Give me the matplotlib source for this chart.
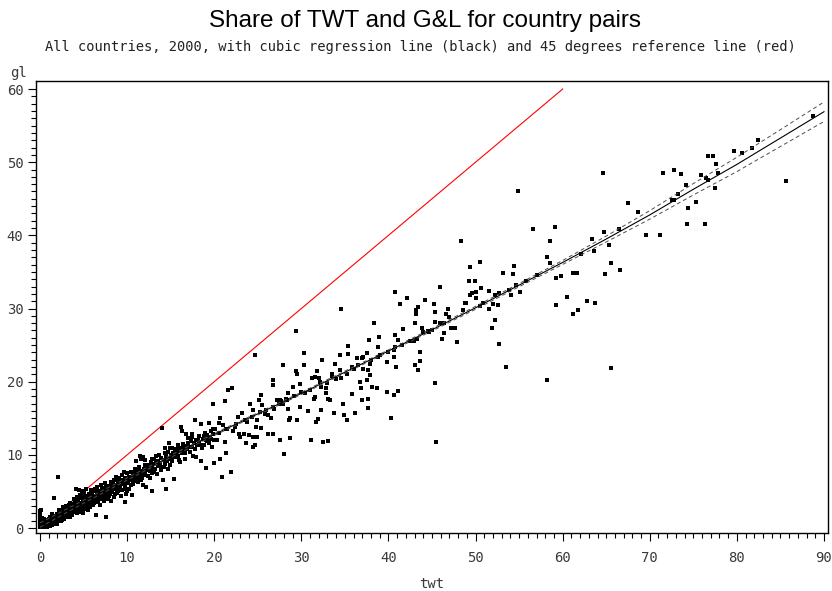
import numpy as np
import matplotlib
matplotlib.use("Agg")
from matplotlib import pyplot as plt

# (twt, gl) pairs, grouped by twt range
pts_origin = [
    (0.0, 0.2), (0.0, 0.5), (0.0, 0.8), (0.0, 1.1), (0.0, 1.4), (0.0, 1.7), (0.0, 2.0),
    (0.0, 2.3), (0.1, 2.5), (0.1, 0.1), (0.1, 0.4), (0.1, 1.0), (0.2, 0.2), (0.2, 0.6),
    (0.3, 0.1), (0.3, 0.4), (0.3, 0.9), (0.4, 0.2), (0.4, 0.6), (0.5, 0.3), (0.5, 0.8),
    (0.5, 1.2), (0.6, 0.2), (0.7, 0.5), (0.7, 0.9), (0.8, 0.3), (0.9, 0.6), (0.9, 1.1),
    (1.0, 0.4), (1.0, 0.8), (1.1, 0.5), (1.1, 1.3), (1.2, 0.7), (1.3, 0.4), (1.3, 1.0),
    (1.4, 0.8), (1.5, 0.6), (1.5, 1.2), (1.6, 0.9), (1.6, 1.5), (1.7, 0.7), (1.8, 1.1),
    (1.8, 1.6), (1.9, 0.9), (2.0, 1.3), (2.0, 1.9), (2.1, 1.0), (2.1, 7.0), (2.2, 1.5),
    (2.3, 1.2), (2.3, 2.0), (2.4, 1.6), (2.5, 1.1), (2.5, 2.3), (2.6, 1.8), (2.7, 1.4),
    (2.8, 2.0), (2.8, 2.6), (2.9, 1.7), (3.0, 2.2), (3.0, 1.5), (1.6, 4.1),
    (0.2, 1.4), (0.4, 1.0), (0.6, 0.7), (0.8, 0.1), (0.8, 1.0), (1.0, 1.2), (1.2, 0.3),
    (1.2, 1.5), (1.4, 0.4), (1.4, 1.9), (1.7, 1.2), (1.9, 1.4), (2.0, 0.6), (2.2, 2.4),
    (2.4, 0.9), (2.6, 1.4), (2.6, 2.9), (2.8, 1.2), (2.9, 2.3), (3.0, 3.0),
]
pts_low = [
    (3.1, 2.8), (3.2, 1.9), (3.2, 2.4), (3.3, 3.1), (3.4, 2.1), (3.4, 2.7), (3.5, 3.4),
    (3.6, 2.3), (3.6, 2.9), (3.7, 1.8), (3.8, 2.6), (3.8, 3.3), (3.9, 4.0), (4.0, 2.4),
    (4.0, 3.0), (4.1, 3.6), (4.1, 5.4), (4.2, 2.8), (4.2, 4.3), (4.3, 3.2), (4.4, 2.5),
    (4.4, 3.8), (4.5, 3.0), (4.5, 5.2), (4.5, 2.2), (4.6, 3.4), (4.7, 2.7), (4.7, 4.1),
    (4.8, 3.1), (4.8, 5.0), (4.9, 3.7), (4.9, 2.0), (5.0, 2.9), (5.0, 3.4), (5.0, 4.4),
    (5.1, 3.9), (5.2, 3.2), (5.3, 5.4), (5.3, 3.6), (5.4, 4.2), (5.4, 2.8), (5.5, 3.9),
    (5.6, 3.3), (5.6, 4.7), (5.7, 4.0), (5.8, 3.5), (5.8, 5.2), (5.9, 4.3), (6.0, 3.7),
    (6.0, 4.8), (6.1, 4.1), (6.2, 3.4), (6.2, 5.0), (6.3, 4.4), (6.4, 1.8), (6.4, 3.9),
    (6.5, 4.7), (6.6, 4.2), (6.6, 5.6), (6.7, 3.6), (6.8, 4.5), (6.8, 5.1), (6.9, 4.0),
    (7.0, 4.8), (7.0, 5.9), (7.1, 4.3), (7.2, 5.2), (7.3, 3.7), (7.3, 4.7), (7.4, 5.5),
    (7.5, 4.4), (7.5, 6.2), (7.6, 1.5), (7.6, 5.0), (7.7, 4.6), (7.8, 5.4), (7.8, 3.9),
    (7.9, 5.8), (8.0, 5.1), (8.0, 4.6), (8.1, 6.3), (8.2, 5.4), (8.3, 4.9), (8.3, 6.0),
    (8.4, 5.6), (8.5, 6.6), (8.5, 4.2), (8.6, 5.3), (8.7, 7.0), (8.7, 5.9), (8.8, 5.5),
    (8.9, 6.4), (9.0, 5.1), (9.0, 6.0), (9.1, 6.8), (9.2, 5.7), (9.3, 6.3), (9.3, 4.4),
    (9.4, 7.2), (9.5, 6.0), (9.6, 6.6), (9.7, 3.6), (9.7, 5.4), (9.8, 6.9), (9.9, 6.2),
    (10.0, 6.6), (10.0, 5.0), (10.0, 7.5), (3.5, 1.5), (5.5, 2.5), (6.9, 3.2), (8.8, 4.8),
    (3.1, 2.1), (3.3, 2.5), (3.5, 2.0), (3.7, 3.0), (3.9, 2.2), (4.0, 3.6), (4.2, 2.0),
    (4.3, 3.9), (4.5, 2.6), (4.6, 4.5), (4.8, 2.4), (4.9, 3.3), (5.1, 2.6), (5.1, 4.8),
    (5.3, 3.0), (5.5, 4.4), (5.7, 2.9), (5.7, 3.6), (5.9, 3.1), (6.0, 4.2), (6.1, 3.2),
    (6.3, 5.4), (6.5, 3.9), (6.7, 4.9), (6.9, 4.6), (7.1, 5.5), (7.2, 3.9), (7.4, 4.1),
    (7.6, 5.7), (7.9, 4.4), (8.1, 5.0), (8.2, 3.7), (8.4, 6.3), (8.6, 4.7), (8.9, 5.2),
    (9.1, 5.6), (9.2, 6.5), (9.4, 5.2), (9.6, 7.6), (9.8, 5.8), (9.9, 4.6),
]
pts_mid = [
    (10.1, 6.1), (10.2, 7.0), (10.3, 6.5), (10.4, 7.6), (10.5, 5.9), (10.6, 4.5), (10.6, 6.9),
    (10.7, 7.3), (10.8, 6.4), (10.9, 8.0), (11.0, 7.0), (11.0, 9.1), (11.1, 6.6), (11.2, 7.5),
    (11.3, 7.1), (11.4, 8.3), (11.5, 7.4), (11.5, 9.8), (11.6, 9.4), (11.7, 6.9), (11.7, 7.8),
    (11.8, 9.7), (11.8, 5.9), (11.9, 8.1), (12.0, 7.5), (12.1, 8.6), (12.2, 5.6), (12.2, 7.9),
    (12.3, 8.2), (12.4, 7.1), (12.5, 8.5), (12.6, 7.8), (12.7, 9.0), (12.8, 8.2), (12.9, 5.0),
    (12.9, 7.5), (13.0, 8.7), (13.1, 9.4), (13.2, 8.1), (13.3, 8.9), (13.4, 7.4), (13.5, 9.2),
    (13.6, 8.5), (13.7, 10.0), (13.8, 8.9), (13.9, 9.6), (14.0, 13.7), (14.0, 8.3), (14.1, 6.6),
    (14.2, 9.3), (14.3, 10.9), (14.4, 8.8), (14.5, 5.4), (14.5, 9.8), (14.6, 9.1), (14.7, 10.4),
    (14.8, 11.6), (14.8, 9.5), (14.9, 8.6), (15.0, 10.0), (15.1, 9.2), (15.2, 10.9), (15.3, 10.3),
    (15.4, 6.7), (15.5, 9.7), (15.6, 10.8), (15.7, 10.1), (15.8, 11.4), (15.9, 9.3), (16.0, 10.5),
    (16.1, 11.0), (16.2, 13.8), (16.3, 13.3), (16.3, 10.2), (16.4, 11.5), (16.5, 10.7), (16.6, 9.5),
    (16.7, 11.2), (16.8, 12.9), (16.9, 10.8), (17.0, 12.3), (17.0, 11.6), (17.2, 10.4), (17.3, 11.9),
    (17.4, 11.1), (17.5, 12.4), (17.6, 9.9), (17.7, 11.6), (17.8, 14.8), (17.9, 9.7), (17.9, 12.0),
    (18.0, 11.3), (18.2, 12.6), (18.3, 11.8), (18.5, 14.2), (18.5, 9.1), (18.6, 10.9), (18.7, 12.2),
    (18.8, 11.3), (18.9, 13.0), (19.1, 8.2), (19.1, 12.0), (19.2, 12.7), (19.4, 14.4), (19.4, 11.6),
    (19.5, 12.5), (19.6, 13.3), (19.8, 11.1), (19.9, 16.9), (19.9, 12.9), (20.0, 12.0), (20.0, 8.9),
    (10.2, 5.4), (10.4, 6.8), (10.7, 6.0), (10.9, 7.6), (11.2, 6.3), (11.4, 7.9), (11.6, 6.5),
    (11.9, 7.3), (12.1, 9.3), (12.4, 8.6), (12.6, 6.8), (12.9, 9.5), (13.1, 7.6), (13.3, 9.9),
    (13.6, 9.0), (13.9, 7.9), (14.2, 8.4), (14.4, 10.2), (14.7, 8.1), (14.9, 10.9), (15.2, 9.6),
    (15.5, 10.4), (15.8, 9.9), (16.1, 9.0), (16.4, 10.9), (16.7, 10.2), (17.1, 11.1), (17.4, 12.8),
    (17.8, 10.8), (18.1, 12.0), (18.4, 11.4), (18.8, 12.6), (19.2, 11.9), (19.6, 12.2), (19.9, 13.5),
    (20.1, 13.6), (20.3, 12.0), (20.5, 14.3), (20.5, 13.0), (20.7, 15.0), (20.7, 9.4), (20.9, 7.0),
    (21.0, 14.1), (21.2, 11.7), (21.2, 17.3), (21.4, 13.6), (21.4, 10.2), (21.5, 13.5), (21.6, 18.9),
    (21.9, 7.6), (22.0, 19.1), (22.2, 13.2), (22.4, 13.8), (22.5, 14.2), (22.7, 15.2), (22.8, 12.9),
    (23.0, 12.5), (23.2, 15.7), (23.4, 12.9), (23.5, 14.7), (23.7, 11.6), (23.8, 14.5), (24.0, 12.7),
    (24.1, 16.9), (24.3, 15.2), (24.4, 16.1), (24.5, 12.5), (24.5, 11.1), (24.7, 11.3), (24.7, 23.7),
    (24.8, 13.8), (24.9, 14.8), (24.9, 12.5), (25.1, 17.5), (25.2, 15.8), (25.4, 18.2), (25.4, 13.7),
    (25.5, 16.8), (25.8, 15.6), (26.0, 16.1), (26.2, 15.4), (26.2, 12.9), (26.5, 15.0), (26.7, 19.5),
    (26.7, 12.9), (26.8, 20.2), (26.8, 16.6), (26.9, 16.3), (27.2, 17.5), (27.4, 17.0), (27.5, 12.0),
    (27.6, 17.5), (27.7, 17.3), (27.9, 17.0), (27.9, 22.3), (28.0, 10.1), (28.2, 17.7), (28.3, 17.5),
    (28.5, 16.3), (28.5, 18.4), (28.6, 14.8), (28.7, 15.0), (28.7, 12.3), (29.1, 19.3), (29.2, 18.0),
    (29.4, 21.4), (29.4, 26.9), (29.5, 14.7), (29.5, 21.1), (29.8, 16.6), (29.9, 19.7), (30.0, 18.6),
]
pts_upper = [
    (30.3, 23.9), (30.3, 22.3), (30.4, 18.5), (30.8, 16.0), (31.0, 18.9), (31.1, 12.0), (31.2, 20.5),
    (31.4, 17.7), (31.6, 20.7), (31.6, 17.9), (31.7, 14.5), (31.8, 21.4), (31.9, 14.9), (32.0, 20.5),
    (32.1, 20.0), (32.3, 16.1), (32.3, 19.3), (32.4, 23.0), (32.5, 11.7), (32.8, 19.1), (32.8, 18.4),
    (33.0, 19.8), (33.1, 11.9), (33.1, 17.6), (33.3, 17.5), (33.5, 20.8), (33.5, 21.1), (33.8, 15.7),
    (33.9, 22.4), (34.0, 20.4), (34.4, 21.6), (34.4, 23.6), (34.6, 20.5), (34.6, 30.0), (34.8, 17.0),
    (34.9, 15.4), (35.2, 21.1), (35.2, 14.8), (35.4, 24.9), (35.4, 23.8), (35.8, 22.0), (35.8, 18.3),
    (36.0, 21.7), (36.2, 15.7), (36.4, 23.3), (36.5, 22.3), (36.7, 20.0), (36.9, 19.2), (37.0, 17.5),
    (37.0, 23.3), (37.1, 21.8), (37.1, 23.4), (37.5, 23.9), (37.5, 20.2), (37.6, 16.4), (37.7, 21.6),
    (37.7, 17.7), (37.8, 25.7), (37.9, 20.9), (37.9, 22.4), (38.0, 22.9), (38.1, 19.3), (38.3, 28.0),
    (38.7, 19.1), (38.8, 24.8), (38.8, 23.4), (38.9, 26.1), (39.0, 23.6), (39.8, 18.6), (39.8, 22.7),
    (40.0, 24.1), (40.3, 15.1), (40.6, 24.3), (40.6, 18.2), (40.6, 23.4), (40.7, 32.2), (40.8, 26.4),
    (40.8, 24.8), (40.9, 22.0), (41.1, 25.7), (41.1, 18.7), (41.3, 30.6), (41.5, 25.0), (41.7, 27.2),
    (42.1, 31.5), (42.5, 25.6), (42.9, 25.5), (43.0, 22.3), (43.1, 28.0), (43.2, 29.8), (43.2, 29.2),
    (43.3, 25.8), (43.4, 30.2), (43.4, 21.6), (43.6, 22.8), (43.6, 24.1), (43.8, 27.3), (44.0, 26.8),
    (44.2, 31.1), (44.5, 26.9), (44.6, 26.8), (45.0, 27.0), (45.2, 30.6), (45.3, 19.8), (45.4, 29.5),
    (45.4, 28.1), (45.5, 11.7), (45.9, 33.0), (45.9, 28.0), (46.1, 25.9), (46.4, 26.7), (46.4, 28.0),
    (46.6, 29.3), (46.8, 30.0), (47.0, 28.8), (47.2, 27.4), (47.6, 27.4), (47.9, 25.4), (48.3, 39.2),
    (48.6, 29.8), (48.8, 30.8), (48.9, 30.8), (49.2, 33.8), (49.4, 35.7), (49.4, 31.9), (49.6, 32.1),
    (49.9, 33.8), (50.0, 31.5), (50.1, 32.3), (50.5, 36.4), (50.5, 30.3), (50.6, 32.8), (50.8, 30.7),
    (51.5, 32.4), (51.5, 29.9), (51.9, 27.4), (52.0, 30.6), (52.2, 31.8), (52.2, 28.4), (52.6, 30.5),
    (52.7, 32.1), (52.7, 25.2), (53.2, 34.9), (53.5, 22.0), (53.8, 32.6), (54.1, 31.8), (54.3, 34.7),
    (54.4, 35.8), (54.7, 33.2), (54.9, 46.1), (55.1, 32.2), (55.8, 33.8), (56.6, 40.9), (57.0, 34.6),
    (58.2, 37.0), (58.2, 20.2), (58.5, 36.2), (58.6, 39.2), (59.1, 41.2), (59.2, 34.2), (59.2, 30.5),
    (59.8, 34.5), (60.5, 31.6),
]
pts_top = [
    (61.2, 34.9), (61.2, 29.2), (61.7, 34.8), (61.8, 29.8), (62.1, 37.5), (62.8, 31.0), (63.4, 39.5),
    (63.6, 37.9), (63.7, 30.8), (64.6, 48.5), (64.7, 40.4), (64.9, 34.7), (65.3, 38.7), (65.5, 21.9),
    (65.6, 36.2), (66.5, 40.9), (66.6, 35.2), (67.5, 44.4), (68.6, 43.2), (69.6, 40.0), (71.2, 40.1),
    (71.5, 48.5), (72.6, 44.9), (72.8, 49.0), (72.8, 44.8), (73.2, 45.7), (73.6, 48.4), (74.2, 46.9),
    (74.3, 41.6), (74.4, 43.7), (75.3, 44.5), (75.9, 48.2), (76.3, 41.6), (76.4, 47.9), (76.7, 50.9),
    (76.7, 47.6), (77.3, 50.9), (77.5, 46.5), (77.6, 49.7), (77.8, 48.5), (79.7, 51.5), (80.6, 51.3),
    (81.7, 52.0), (82.4, 53.0), (85.6, 47.4), (88.7, 56.3),
]

# cubic fit and its confidence band, read at every 5 units of twt
fit_twt = [0, 5, 10, 15, 20, 25, 30, 35, 40, 45, 50, 55, 60, 65, 70, 75, 80, 85, 90]
fit_gl = [0.4, 3.6, 6.7, 9.8, 12.8, 15.6, 18.4, 21.3, 24.2, 27.1, 30.1, 33.2, 36.3,
          39.5, 42.8, 46.3, 49.7, 53.3, 56.9]
fit_half = [0.3, 0.2, 0.15, 0.15, 0.15, 0.15, 0.15, 0.15, 0.15, 0.17, 0.2, 0.22, 0.27,
            0.4, 0.58, 0.78, 0.98, 1.15, 1.33]

ref_line = [0, 60]

pts = pts_origin + pts_low + pts_mid + pts_upper + pts_top
twt = np.array([p[0] for p in pts])
gl = np.array([p[1] for p in pts])

mono = "DejaVu Sans Mono"
tick_col = "#3a3a3a"

fig = plt.figure(figsize=(8.32, 5.91), dpi=100)
ax = fig.add_axes([36 / 832, 1 - 533 / 591, 792 / 832, 452 / 591])

ax.plot(ref_line, ref_line, color="red", lw=0.8, zorder=2)
ax.plot(twt, gl, ls="none", marker="s", ms=2.2, mew=0, color="black", zorder=3)

fit_gl = np.array(fit_gl)
fit_half = np.array(fit_half)
ax.plot(fit_twt, fit_gl, color="black", lw=0.8, zorder=4)
ax.plot(fit_twt, fit_gl + fit_half, color="0.3", lw=0.7, ls=(0, (4, 3)), zorder=4)
ax.plot(fit_twt, fit_gl - fit_half, color="0.3", lw=0.7, ls=(0, (4, 3)), zorder=4)

ax.set_xlim(-0.46, 90.46)
ax.set_ylim(-0.68, 61.1)
ax.set_xticks(range(0, 91, 10))
ax.set_xticks(range(0, 91), minor=True)
ax.set_yticks(range(0, 61, 10))
ax.set_yticks(range(0, 61), minor=True)
ax.tick_params(which="major", length=6, width=0.8, direction="out")
ax.tick_params(which="minor", length=3.5, width=0.8, direction="out")
ax.tick_params(axis="x", pad=7)
ax.tick_params(axis="y", pad=3)
for lab in ax.get_xticklabels() + ax.get_yticklabels():
    lab.set_family(mono)
    lab.set_fontsize(10)
    lab.set_color(tick_col)
for sp in ax.spines.values():
    sp.set_linewidth(1.0)

ax.set_xlabel("twt", family=mono, fontsize=10, color=tick_col)
ax.xaxis.set_label_coords(0.5, -0.097)
ax.set_ylabel("gl", family=mono, fontsize=10, color=tick_col, rotation=0,
              ha="center", va="center")
ax.yaxis.set_label_coords(-0.0227, 1.018)

fig.text(425 / 832, 1 - 21 / 591, "Share of TWT and G&L for country pairs",
         family="Liberation Sans", fontsize=17.5, ha="center", va="center")
fig.text(420 / 832, 1 - 47 / 591,
         "All countries, 2000, with cubic regression line (black) and 45 degrees reference line (red)",
         family=mono, fontsize=9.9, ha="center", va="center", color="#222222")

fig.savefig("out.png", dpi=100)
